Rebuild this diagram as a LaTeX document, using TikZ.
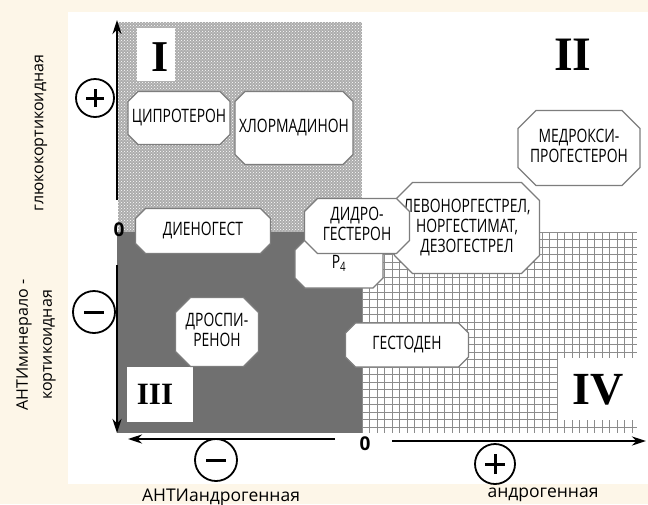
\documentclass[tikz,border=0pt]{standalone}
\usepackage{fontspec}
\newfontfamily\labelfont{Open Sans}[FakeStretch=0.75]
\newfontfamily\axisfont{Open Sans}
\newfontfamily\romanfont{Liberation Serif}
\usepackage{tikz}
\usetikzlibrary{
arrows.meta,
positioning,
shapes.misc,
patterns
}
\definecolor{bgcream}{RGB}{253,246,232}
\definecolor{quadlight}{RGB}{172,172,172}
\definecolor{quaddark}{RGB}{112,112,112}
\definecolor{gridgray}{RGB}{140,140,140}
\definecolor{boxedge}{RGB}{125,125,125}

% drug names are set in a zero-width box so the octagon keeps its given size
\newcommand{\drugtext}[1]{\makebox[0pt]{\begin{tabular}{@{}c@{}}#1\end{tabular}}}

\tikzset{
  drugbox/.style={chamfered rectangle, chamfered rectangle xsep=13pt,
    draw=boxedge, line width=1.3pt, fill=white, inner sep=0pt,
    font=\labelfont\fontsize{18.5}{20}\selectfont},
  axislabel/.style={font=\axisfont\fontsize{17.5}{25}\selectfont, align=center, inner sep=0pt},
  quadnum/.style={font=\romanfont\bfseries\fontsize{44}{44}\selectfont, inner sep=0pt},
  zerolab/.style={font=\axisfont\bfseries\fontsize{19}{19}\selectfont, inner sep=0pt},
  signcirc/.style={circle, draw, line width=1.8pt, minimum size=40pt, inner sep=0pt},
  signbar/.style={line width=3pt},
  axisarrow/.style={line width=2.6pt, -{Stealth[length=14pt, width=9pt]}},
  gridline/.style={gridgray, line width=1pt}
}

\begin{document}
\begin{tikzpicture}[x=1pt, y=-1pt]
\useasboundingbox (0,0) rectangle (648,504);

% Background and panel
\fill[bgcream] (0,0) rectangle (648,504);
\fill[white] (68,12) rectangle (648,484);

% Quadrant I (textured)
\fill[quadlight] (118,22) rectangle (362,232);
\fill[pattern=crosshatch dots, pattern color=white] (118,22) rectangle (362,232);

% Quadrant III (dark)
\fill[quaddark] (117,232) rectangle (362,433);

% Quadrant IV (grid)
\foreach \gx in {0,...,36}
  \draw[gridline] (362+7.5*\gx, 232) -- (362+7.5*\gx, 433);
\foreach \gy in {0,...,26}
  \draw[gridline] (362, 232+7.5*\gy) -- (637, 232+7.5*\gy);

% Numeral boxes
\fill[white] (137,28) rectangle (175,81);
\fill[white] (127,367) rectangle (193,422);
\fill[white] (558,358) rectangle (641,420);
\node[quadnum] (numI) at (160,57) {I};
\node[quadnum, font=\romanfont\bfseries\fontsize{48}{48}\selectfont] (numII) at (573,55) {II};
\node[quadnum, font=\romanfont\bfseries\fontsize{31}{31}\selectfont] (numIII) at (155,394) {III};
\node[quadnum, font=\romanfont\bfseries\fontsize{46}{46}\selectfont] (numIV) at (598,390) {IV};

% Axes
\coordinate (vupbase) at (117,200);
\coordinate (vuptip) at (117,20);
\coordinate (vdnbase) at (117,265);
\coordinate (vdntip) at (117,433);
\coordinate (hleftbase) at (335,439);
\coordinate (hlefttip) at (128,439);
\coordinate (hrightbase) at (392,441);
\coordinate (hrighttip) at (646,441);
\draw[axisarrow] (vupbase) -- (vuptip);
\draw[axisarrow] (vdnbase) -- (vdntip);
\draw[axisarrow] (hleftbase) -- (hlefttip);
\draw[axisarrow] (hrightbase) -- (hrighttip);
\node[zerolab] (zeroy) at (119,230) {0};
\node[zerolab] (zerox) at (365,444) {0};

% Sign circles
\node[signcirc, minimum size=38pt] (plusup) at (95,98) {};
\draw[signbar] ([xshift=-9pt]plusup.center) -- ([xshift=9pt]plusup.center);
\draw[signbar] ([yshift=-9pt]plusup.center) -- ([yshift=9pt]plusup.center);
\node[signcirc, minimum size=42pt] (minusleft) at (94,312) {};
\draw[signbar] ([xshift=-10pt]minusleft.center) -- ([xshift=10pt]minusleft.center);
\node[signcirc, minimum size=42pt] (minusbot) at (216,460) {};
\draw[signbar] ([xshift=-10pt]minusbot.center) -- ([xshift=10pt]minusbot.center);
\node[signcirc, minimum size=40pt] (plusbot) at (495,464) {};
\draw[signbar] ([xshift=-10pt]plusbot.center) -- ([xshift=10pt]plusbot.center);
\draw[signbar] ([yshift=-10pt]plusbot.center) -- ([yshift=10pt]plusbot.center);

% Axis captions
\node[axislabel, rotate=90, font=\axisfont\fontsize{16}{25}\selectfont] (glucolab) at (41,133) {глюкокортикоидная};
\node[axislabel, rotate=90, font=\axisfont\fontsize{16}{24}\selectfont] (minerallab) at (36,345) {АНТИминерало -\\кортикоидная};
\node[axislabel] (antiandrlab) at (221,497) {АНТИандрогенная};
\node[axislabel] (androlab) at (543,495) {андрогенная};

% Drugs
\node[drugbox, minimum width=102pt, minimum height=53pt] (cypro) at (179,118) {\drugtext{ЦИПРОТЕРОН}};
\node[drugbox, minimum width=118pt, minimum height=73pt, chamfered rectangle xsep=18pt] (chlor) at (294,128) {\drugtext{ХЛОРМАДИНОН}};
\node[drugbox, minimum width=122pt, minimum height=75pt, chamfered rectangle xsep=18pt] (medroxy) at (579,148) {\drugtext{МЕДРОКСИ-\\ПРОГЕСТЕРОН}};
\node[drugbox, minimum width=135pt, minimum height=45pt] (dieno) at (203,231) {\drugtext{ДИЕНОГЕСТ}};
\node[drugbox, minimum width=88pt, minimum height=48pt] (progest) at (339,264) {\drugtext{P\textsubscript{4}}};
\node[drugbox, minimum width=145pt, minimum height=91pt, chamfered rectangle xsep=18pt] (levo) at (467,228) {\drugtext{ЛЕВОНОРГЕСТРЕЛ,\\НОРГЕСТИМАТ,\\ДЕЗОГЕСТРЕЛ}};
\node[drugbox, minimum width=105pt, minimum height=55pt] (didro) at (357,226) {\drugtext{ДИДРО-\\ГЕСТЕРОН}};
\node[drugbox, minimum width=83pt, minimum height=69pt, chamfered rectangle xsep=15pt] (drospi) at (217,332) {\drugtext{ДРОСПИ-\\РЕНОН}};
\node[drugbox, minimum width=123pt, minimum height=44pt] (gesto) at (407,345) {\drugtext{ГЕСТОДЕН}};

\end{tikzpicture}
\end{document}
